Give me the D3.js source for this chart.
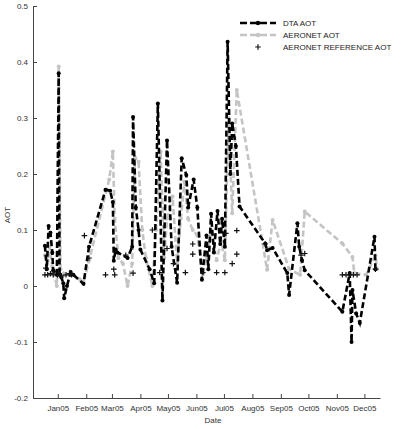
<!DOCTYPE html>
<html>
<head>
<meta charset="utf-8">
<script src="https://cdn.jsdelivr.net/npm/d3@7"></script>
<style>
body { margin: 0; background: #fff; }
text { font-family: "Liberation Sans", Arial, sans-serif; }
</style>
</head>
<body>
<div id="chart"></div>
<script>
var w = 406;
var h = 429;

// DTA AOT
var dtaDates = ["2004-12-18","2004-12-20","2004-12-22","2004-12-24","2004-12-26","2004-12-27","2004-12-31",
  "2005-01-02","2005-01-03","2005-01-05","2005-01-07","2005-01-08","2005-01-11","2005-01-15","2005-01-18",
  "2005-01-29","2005-02-04","2005-02-22","2005-02-27","2005-03-02","2005-03-03","2005-03-05","2005-03-07",
  "2005-03-18","2005-03-23","2005-03-24","2005-03-27","2005-03-30","2005-04-01","2005-04-11","2005-04-16",
  "2005-04-20","2005-04-25","2005-04-30","2005-05-05","2005-05-11","2005-05-16","2005-05-21","2005-05-23",
  "2005-05-29","2005-06-02","2005-06-07","2005-06-12","2005-06-14","2005-06-17","2005-06-20","2005-06-24",
  "2005-06-27","2005-06-29","2005-07-02","2005-07-05","2005-07-08","2005-07-10","2005-07-14","2005-07-18",
  "2005-08-15","2005-08-17","2005-08-23","2005-09-08","2005-09-10","2005-09-19","2005-09-21","2005-09-24",
  "2005-09-27","2005-11-07","2005-11-15","2005-11-17","2005-11-18","2005-11-22","2005-11-26","2005-12-12",
  "2005-12-13"];
var dtaAOT = [0.072,0.03,0.107,0.095,0.06,0.028,0.02,
  0.38,0.02,0.015,0.005,-0.022,0.0,0.025,0.02,
  0.004,0.07,0.172,0.17,0.15,0.045,0.065,0.06,
  0.05,0.07,0.302,0.14,0.1,0.065,0.03,0.005,
  0.326,-0.026,0.26,0.07,0.006,0.228,0.198,0.14,
  0.19,0.14,0.011,0.09,0.03,0.129,0.06,0.134,
  0.075,0.12,0.07,0.436,0.2,0.29,0.25,0.142,
  0.076,0.064,0.068,0.023,-0.016,0.112,0.07,0.046,
  0.028,-0.046,0.023,-0.10,-0.007,-0.049,-0.066,0.088,
  0.03];

// AERONET AOT
var aeroDates = ["2004-12-18","2004-12-21","2004-12-23","2004-12-26","2004-12-31","2005-01-02","2005-01-04",
  "2005-01-09","2005-01-16","2005-01-25","2005-01-29","2005-02-04","2005-02-26","2005-03-02","2005-03-04",
  "2005-03-08","2005-03-13","2005-03-18","2005-03-23","2005-03-26","2005-03-30","2005-04-03","2005-04-07",
  "2005-04-14","2005-04-18","2005-04-23","2005-04-27","2005-04-30","2005-05-06","2005-05-11","2005-05-15",
  "2005-05-19","2005-05-23","2005-05-28","2005-06-02","2005-06-08","2005-06-12","2005-06-17","2005-06-23",
  "2005-06-28","2005-07-02","2005-07-06","2005-07-10","2005-07-15","2005-08-17","2005-08-23","2005-09-10",
  "2005-09-22","2005-09-27","2005-11-07","2005-11-18","2005-11-20","2005-12-03","2005-12-13","2005-12-15"];
var aeroAOT = [0.055,0.045,0.07,0.035,0.0,0.392,0.03,
  0.02,0.022,0.012,0.006,0.045,0.19,0.24,0.12,
  0.05,0.04,0.0,0.04,0.23,0.222,0.1,0.05,
  0.0,0.1,0.24,0.05,0.12,0.16,0.04,0.12,
  0.186,0.12,0.1,0.09,0.02,0.052,0.1,0.046,
  0.08,0.046,0.3,0.13,0.35,0.029,0.118,0.03,
  0.02,0.133,0.076,0.052,0.023,0.02,0.055,0.03];

// AERONET REFERENCE AOT
var refDates = ["2004-12-18","2004-12-19","2004-12-21","2004-12-24","2004-12-27","2004-12-28","2005-01-03",
  "2005-01-05","2005-01-10","2005-01-14","2005-01-16","2005-01-30","2005-02-04","2005-02-22","2005-03-03",
  "2005-03-04","2005-03-16","2005-03-24","2005-04-14","2005-04-22","2005-04-30","2005-05-07","2005-05-20",
  "2005-05-28","2005-05-28","2005-06-08","2005-06-23","2005-07-02","2005-07-03","2005-07-10","2005-07-15",
  "2005-07-15","2005-08-15","2005-09-23","2005-09-27","2005-11-07","2005-11-11","2005-11-15","2005-11-19",
  "2005-11-23","2005-12-13"];
var refAOT = [0.02,0.032,0.02,0.022,0.02,0.025,0.02,
  0.018,0.02,0.022,0.02,0.09,0.05,0.02,0.03,
  0.02,0.055,0.023,0.1,0.024,0.067,0.04,0.024,
  0.075,0.057,0.024,0.024,0.024,0.094,0.04,0.099,
  0.057,0.075,0.055,0.058,0.02,0.02,0.02,0.02,
  0.02,0.03];

var monthTicks = ["2005-01-01","2005-02-01","2005-03-01","2005-04-01","2005-05-01","2005-06-01",
  "2005-07-01","2005-08-01","2005-09-01","2005-10-01","2005-11-01","2005-12-01"];
var yTicks = [-0.2,-0.1,0,0.1,0.2,0.3,0.4,0.5];
var legendItems = ["DTA AOT", "AERONET AOT", "AERONET REFERENCE AOT"];

var parse = d3.timeParse("%Y-%m-%d");

function pairs(dates, vals){
  return dates.map(function(d,i){ return {date: parse(d), v: vals[i]}; });
}
var dta = pairs(dtaDates, dtaAOT);
var aero = pairs(aeroDates, aeroAOT);
var ref = pairs(refDates, refAOT);

var x = d3.scaleTime()
  .domain([parse("2004-12-05"), parse("2005-12-18")])
  .range([33, 380]);
var y = d3.scaleLinear()
  .domain([-0.2, 0.5])
  .range([398, 6]);

var svg = d3.select("#chart")
  .append("svg")
  .attr("width", w)
  .attr("height", h);

// axes
svg.append("g")
  .attr("transform", "translate(0,398)")
  .call(d3.axisBottom(x)
    .tickValues(monthTicks.map(parse))
    .tickFormat(d3.timeFormat("%b%y"))
    .tickSizeInner(-4)
    .tickSizeOuter(0)
    .tickPadding(7));

svg.append("g")
  .attr("transform", "translate(33,0)")
  .call(d3.axisLeft(y)
    .tickValues(yTicks)
    .tickFormat(function(d){ return String(+d.toFixed(1)); })
    .tickSizeInner(-4)
    .tickSizeOuter(0)
    .tickPadding(5));

svg.selectAll(".tick text")
  .attr("font-size", 8)
  .attr("fill", "#333")
  .attr("font-family", "Liberation Sans, Arial, sans-serif");
svg.selectAll(".domain, .tick line").attr("stroke", "#444");

svg.append("text")
  .attr("x", 213)
  .attr("y", 423)
  .attr("text-anchor", "middle")
  .attr("font-size", 8)
  .attr("fill", "#333")
  .text("Date");

svg.append("text")
  .attr("transform", "translate(10,215) rotate(-90)")
  .attr("text-anchor", "middle")
  .attr("font-size", 8)
  .attr("fill", "#333")
  .text("AOT");

var line = d3.line()
  .x(function(d){ return x(d.date); })
  .y(function(d){ return y(d.v); });

// AERONET AOT (grey)
svg.append("path")
  .datum(aero)
  .attr("d", line)
  .attr("fill", "none")
  .attr("stroke", "#c4c4c4")
  .attr("stroke-width", 2.6)
  .attr("stroke-dasharray", "6,3");
svg.selectAll(".aeroDot")
  .data(aero)
  .enter()
  .append("circle")
  .attr("class", "aeroDot")
  .attr("cx", function(d){ return x(d.date); })
  .attr("cy", function(d){ return y(d.v); })
  .attr("r", 2)
  .style("fill", "#c4c4c4");

// DTA AOT (black)
svg.append("path")
  .datum(dta)
  .attr("d", line)
  .attr("fill", "none")
  .attr("stroke", "#000")
  .attr("stroke-width", 2.6)
  .attr("stroke-dasharray", "6,3");
svg.selectAll(".dtaDot")
  .data(dta)
  .enter()
  .append("circle")
  .attr("class", "dtaDot")
  .attr("cx", function(d){ return x(d.date); })
  .attr("cy", function(d){ return y(d.v); })
  .attr("r", 2)
  .style("fill", "#000");

// reference crosses
var crossPath = "M-2.8,0H2.8M0,-2.8V2.8";
svg.selectAll(".ref")
  .data(ref)
  .enter()
  .append("path")
  .attr("class", "ref")
  .attr("d", crossPath)
  .attr("transform", function(d){ return "translate(" + x(d.date) + "," + y(d.v) + ")"; })
  .attr("fill", "none")
  .attr("stroke", "#111")
  .attr("stroke-width", 1.2);

// legend
var legend = svg.append("g");
var legendY = [23, 35, 47];

legend.append("line")
  .attr("x1", 240).attr("x2", 276)
  .attr("y1", legendY[0]).attr("y2", legendY[0])
  .attr("stroke", "#000").attr("stroke-width", 2.6).attr("stroke-dasharray", "7,3");
legend.append("circle").attr("cx", 258).attr("cy", legendY[0]).attr("r", 2.2).style("fill", "#000");

legend.append("line")
  .attr("x1", 240).attr("x2", 276)
  .attr("y1", legendY[1]).attr("y2", legendY[1])
  .attr("stroke", "#c4c4c4").attr("stroke-width", 2.6).attr("stroke-dasharray", "7,3");
legend.append("circle").attr("cx", 258).attr("cy", legendY[1]).attr("r", 2.2).style("fill", "#c4c4c4");

legend.append("path")
  .attr("d", crossPath)
  .attr("transform", "translate(258," + legendY[2] + ")")
  .attr("stroke", "#111").attr("stroke-width", 1.2);

legend.selectAll("text")
  .data(legendItems)
  .enter()
  .append("text")
  .attr("x", 283)
  .attr("y", function(d,i){ return legendY[i] + 3; })
  .attr("font-size", 8)
  .attr("fill", "#222")
  .text(function(d){ return d; });
</script>
</body>
</html>
